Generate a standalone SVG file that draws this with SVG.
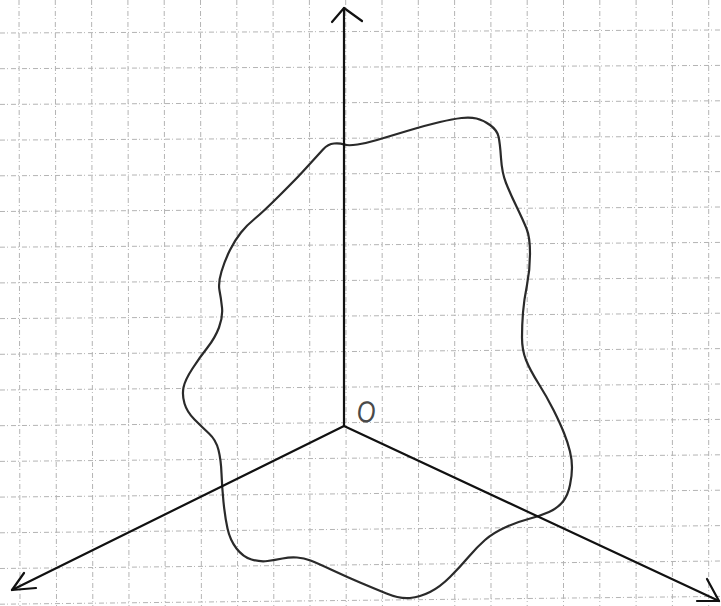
<svg xmlns="http://www.w3.org/2000/svg" width="721" height="606" viewBox="0 0 721 606">
<style>
.grid line{stroke:#b4b4b4;stroke-width:1;stroke-dasharray:5 2 1 3;fill:none}
.axis{stroke:#111;stroke-width:2.2;fill:none;stroke-linecap:round;stroke-linejoin:round}
.blob{stroke:#2a2a2a;stroke-width:2.2;fill:none;stroke-linejoin:round}
.lbl{font-family:"Liberation Sans",Arial,sans-serif;font-size:30px;fill:#4a4a4a}
</style>
<rect width="721" height="606" fill="#fff"/>
<g id="grid" class="grid">
<line x1="19" y1="0" x2="20" y2="606"/>
<line x1="55.3" y1="0" x2="56.5" y2="606"/>
<line x1="91.6" y1="0" x2="92.8" y2="606"/>
<line x1="127.9" y1="0" x2="129" y2="606"/>
<line x1="164.2" y1="0" x2="165.2" y2="606"/>
<line x1="200.5" y1="0" x2="201.4" y2="606"/>
<line x1="236.8" y1="0" x2="237.6" y2="606"/>
<line x1="273.1" y1="0" x2="273.8" y2="606"/>
<line x1="309.4" y1="0" x2="310" y2="606"/>
<line x1="345.7" y1="0" x2="346.2" y2="606"/>
<line x1="382" y1="0" x2="382.4" y2="606"/>
<line x1="418.3" y1="0" x2="418.6" y2="606"/>
<line x1="454.6" y1="0" x2="454.8" y2="606"/>
<line x1="490.9" y1="0" x2="491" y2="606"/>
<line x1="527.2" y1="0" x2="527.2" y2="606"/>
<line x1="563.5" y1="0" x2="563.5" y2="606"/>
<line x1="599.8" y1="0" x2="599.8" y2="606"/>
<line x1="636.1" y1="0" x2="636.1" y2="606"/>
<line x1="672.4" y1="0" x2="672.4" y2="606"/>
<line x1="708.7" y1="0" x2="708.7" y2="606"/>
<line x1="0" y1="33" x2="721" y2="30"/>
<line x1="0" y1="68.7" x2="721" y2="65.4"/>
<line x1="0" y1="104.4" x2="721" y2="100.8"/>
<line x1="0" y1="140.1" x2="721" y2="136.2"/>
<line x1="0" y1="175.8" x2="721" y2="171.6"/>
<line x1="0" y1="211.5" x2="721" y2="207"/>
<line x1="0" y1="247.2" x2="721" y2="242.4"/>
<line x1="0" y1="282.9" x2="721" y2="277.8"/>
<line x1="0" y1="318.6" x2="721" y2="313.2"/>
<line x1="0" y1="354.3" x2="721" y2="348.6"/>
<line x1="0" y1="390" x2="721" y2="384"/>
<line x1="0" y1="425.7" x2="721" y2="419.4"/>
<line x1="0" y1="461.4" x2="721" y2="454.8"/>
<line x1="0" y1="497.1" x2="721" y2="490.2"/>
<line x1="0" y1="532.8" x2="721" y2="525.6"/>
<line x1="0" y1="568.5" x2="721" y2="561"/>
<line x1="0" y1="604.2" x2="721" y2="596.4"/>
</g>
<g id="region">
<path class="blob" d="M323,149.5 Q328,144 334,143.5 Q340,143 344,144.5 Q348,146 357.5,144.5 Q367,143 377,140 Q387,137 407,131 Q427,125 440,122 Q453,119 461.5,118 Q470,117 476.5,118.5 Q483,120 490,125 Q497,130 498.5,136.5 Q500,143 501,158 Q502,173 506,183 Q510,193 516.5,206.5 Q523,220 526.5,228.5 Q530,237 530,253.5 Q530,270 527,285 Q524,300 523,312.5 Q522,325 522,337.5 Q522,350 526,360 Q530,370 538.5,383.5 Q547,397 553.5,410 Q560,423 564,433 Q568,443 570,451.5 Q572,460 572,467.5 Q572,475 570,485 Q568,495 563,501.5 Q558,508 549,512 Q540,516 528.5,519 Q517,522 505,527.5 Q493,533 485,540 Q477,547 468.5,557 Q460,567 450,577 Q440,587 430,592 Q420,597 410,598 Q400,599 386.5,593.5 Q373,588 360,582.5 Q347,577 332,570 Q317,563 310.5,560.5 Q304,558 297,557.5 Q290,557 282.5,558.5 Q275,560 267.5,561 Q260,562 251.5,559.5 Q243,557 236.5,548.5 Q230,540 227.5,528.5 Q225,517 223.5,502 Q222,487 221.5,473.5 Q221,460 218.5,450 Q216,440 209,433.5 Q202,427 194.5,419.5 Q187,412 184.5,403.5 Q182,395 183.5,387.5 Q185,380 192.5,368.5 Q200,357 207.5,347.5 Q215,338 219,327.5 Q223,317 222,307.5 Q221,298 219.5,290.5 Q218,283 221.5,271.5 Q225,260 230,250 Q235,240 241,232.5 Q247,225 255,218.5 Q263,212 280,195 Q297,178 302,172.5 Q307,167 312.5,161 Q318,155 323,149.5 Z"/>
</g>
<g id="connectors">
<g id="axis-z">
<line class="axis" x1="344" y1="426" x2="344" y2="8"/>
<polyline class="axis" points="332,22 344,8 362,21"/>
</g>
<g id="axis-x">
<line class="axis" x1="344" y1="426" x2="12" y2="590"/>
<polyline class="axis" points="24,573 12,590 36,588"/>
</g>
<g id="axis-y">
<line class="axis" x1="344" y1="426" x2="719" y2="601"/>
<polyline class="axis" points="707,579 719,601 697,601"/>
</g>
</g>
<g id="origin">
<text class="lbl" text-anchor="middle" transform="translate(365,422) rotate(8) scale(0.8,1)">O</text>
</g>
</svg>
